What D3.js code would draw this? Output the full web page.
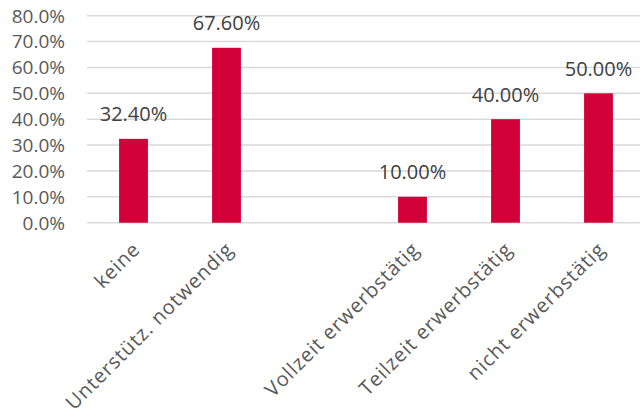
<!DOCTYPE html>
<html>
<head>
<meta charset="utf-8">
<script src="https://cdn.jsdelivr.net/npm/d3@7"></script>
<style>
  html, body { margin: 0; padding: 0; background: #fff; }
  svg { display: block; font-family: "Open Sans", "Noto Sans", sans-serif; }
</style>
</head>
<body>
<svg id="chart" width="640" height="416"></svg>
<script>
const categories = ["keine", "Unterstütz. notwendig", "", "Vollzeit erwerbstätig", "Teilzeit erwerbstätig", "nicht erwerbstätig"];
const values = [32.4, 67.6, null, 10.0, 40.0, 50.0];
const valueLabels = ["32.40%", "67.60%", "", "10.00%", "40.00%", "50.00%"];
const yTicks = [0, 10, 20, 30, 40, 50, 60, 70, 80];
const yTickLabels = ["0.0%", "10.0%", "20.0%", "30.0%", "40.0%", "50.0%", "60.0%", "70.0%", "80.0%"];

const svg = d3.select("#chart");
const plot = { left: 87, right: 645, top: 15.7, bottom: 222.7 };

const keys = categories.map((c, i) => "c" + i);
const x = d3.scaleBand().domain(keys).range([plot.left, plot.right]).paddingInner(0.69).paddingOuter(0.345);
const y = d3.scaleLinear().domain([0, 80]).range([plot.bottom, plot.top]);

// gridlines
svg.append("g").selectAll("line").data(yTicks).join("line")
  .attr("x1", plot.left).attr("x2", 640)
  .attr("y1", d => y(d)).attr("y2", d => y(d))
  .attr("stroke", "#d9d9d9").attr("stroke-width", 1.5);

// y axis labels
svg.append("g").selectAll("text").data(yTicks).join("text")
  .attr("x", 65).attr("y", d => y(d)).attr("dy", "0.36em")
  .attr("text-anchor", "end").attr("font-size", 19).attr("fill", "#595959")
  .text((d, i) => yTickLabels[i]);

const data = keys.map((k, i) => ({ k, cat: categories[i], v: values[i], lab: valueLabels[i] }));

// bars
svg.append("g").selectAll("rect").data(data.filter(d => d.v != null)).join("rect")
  .attr("x", d => x(d.k)).attr("width", x.bandwidth())
  .attr("y", d => y(d.v)).attr("height", d => y(0) - y(d.v))
  .attr("fill", "#D20038");

// value labels
svg.append("g").selectAll("text").data(data.filter(d => d.v != null)).join("text")
  .attr("x", d => x(d.k) + x.bandwidth() / 2).attr("y", d => y(d.v) - 17.5)
  .attr("text-anchor", "middle").attr("font-size", 20).attr("fill", "#404040")
  .text(d => d.lab);

// category labels
svg.append("g").selectAll("text").data(data.filter(d => d.cat !== "")).join("text")
  .attr("transform", d => `translate(${x(d.k) + x.bandwidth() / 2 + 3},${plot.bottom + 23}) rotate(-45)`)
  .attr("text-anchor", "end").attr("dy", "0.35em")
  .attr("font-size", 20).attr("letter-spacing", 0.9).attr("fill", "#595959")
  .text(d => d.cat);
</script>
</body>
</html>
